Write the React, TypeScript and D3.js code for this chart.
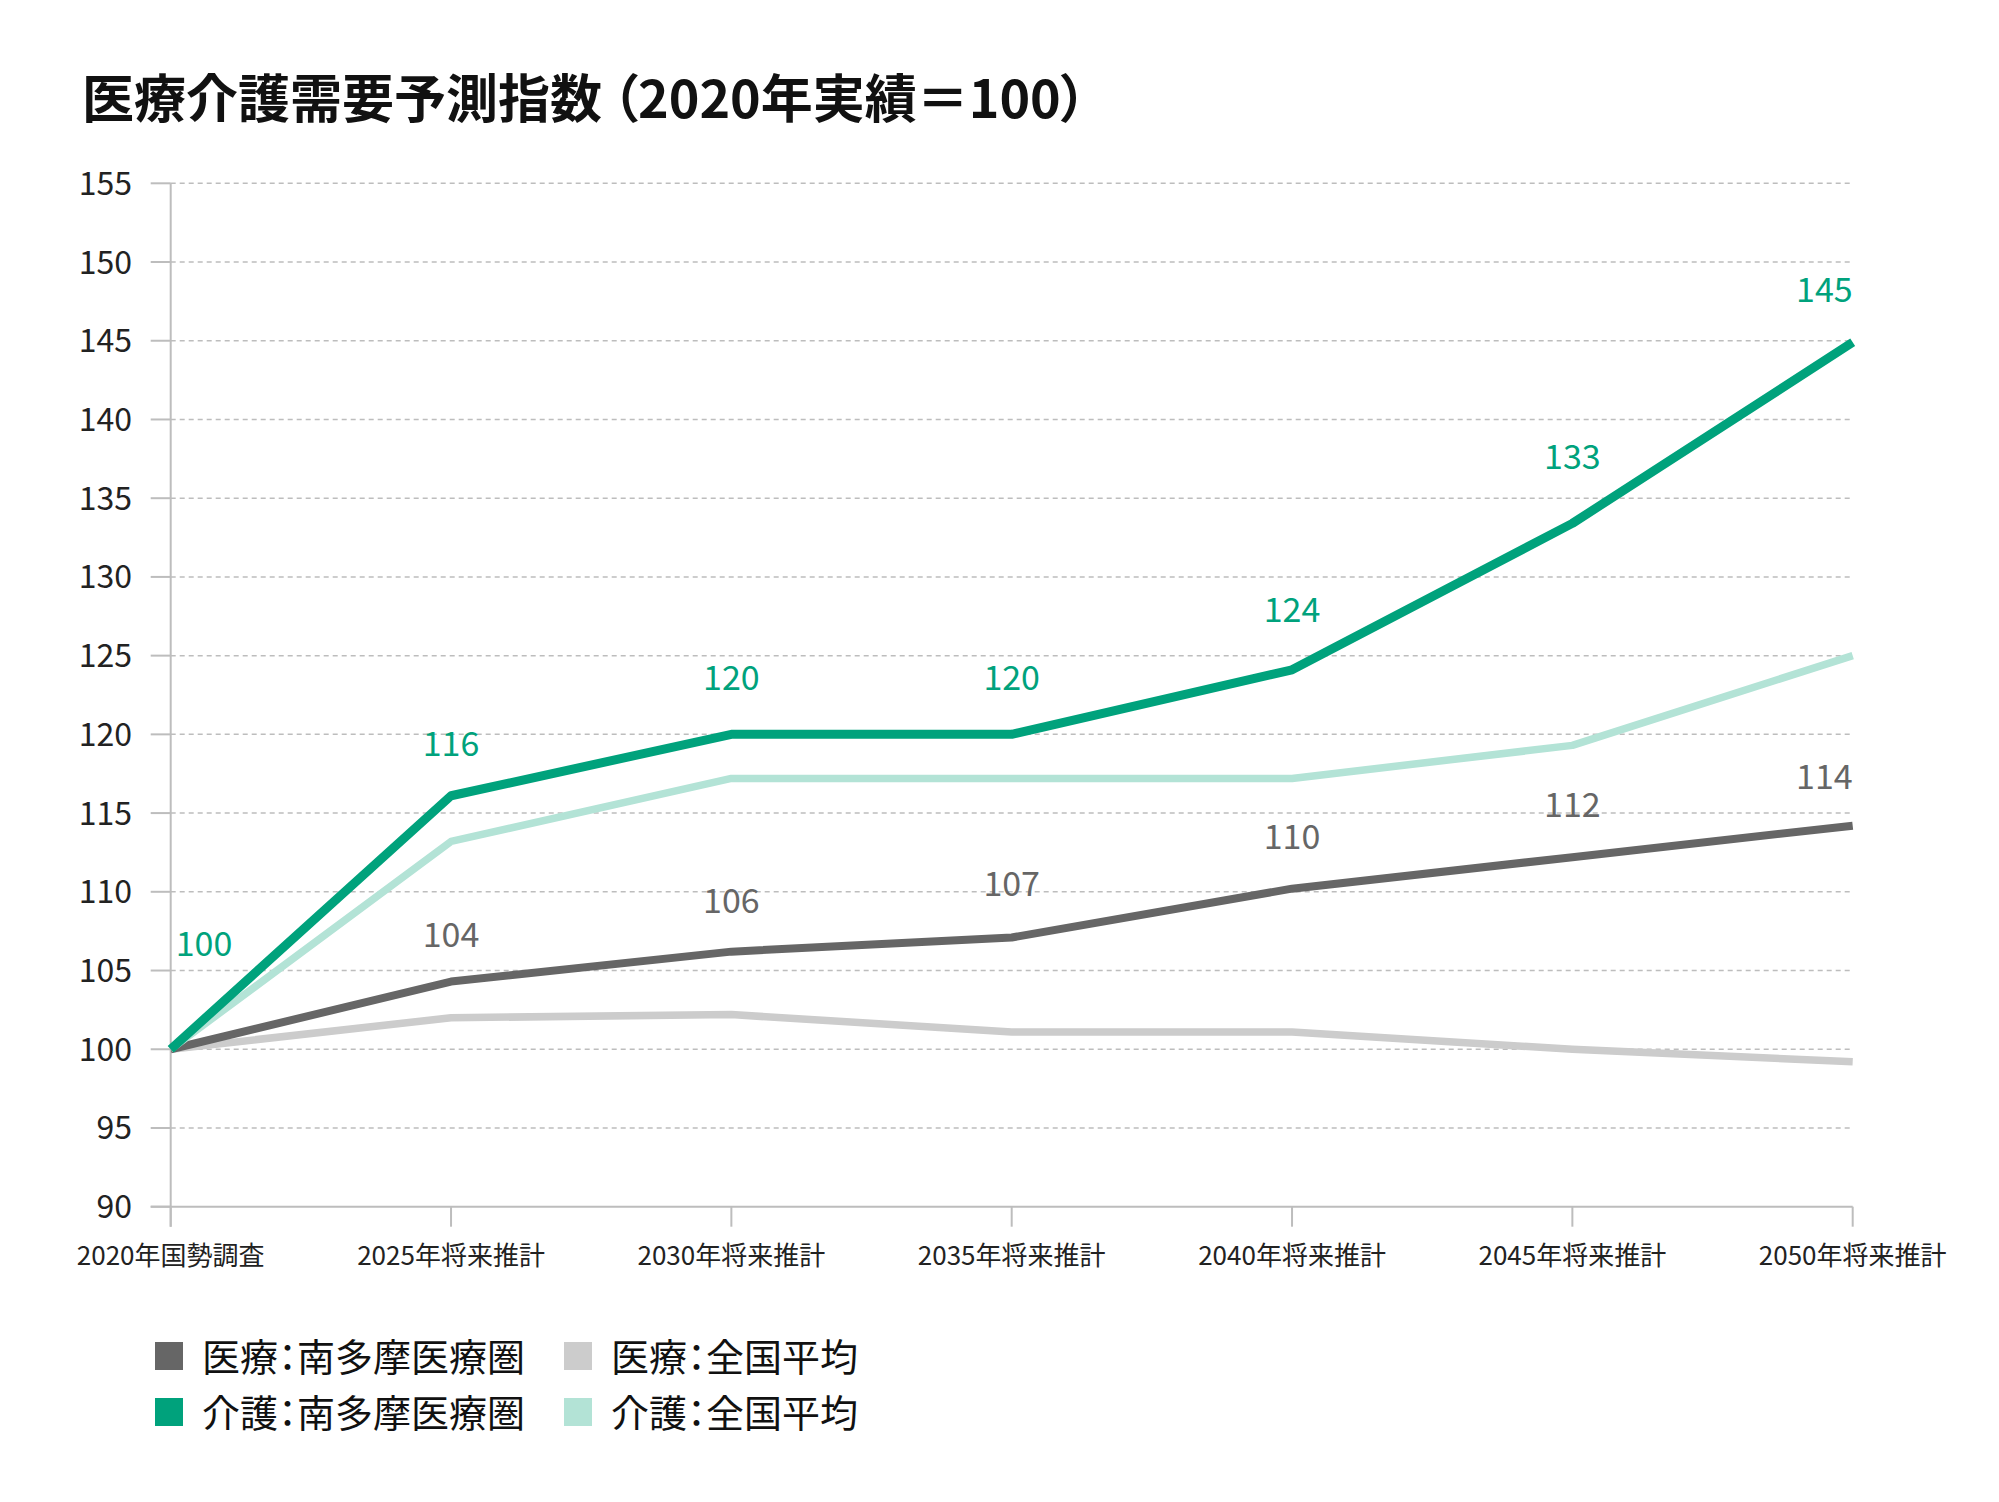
import React from "react";
import * as d3 from "d3";

const categories = [
  "2020年国勢調査",
  "2025年将来推計",
  "2030年将来推計",
  "2035年将来推計",
  "2040年将来推計",
  "2045年将来推計",
  "2050年将来推計",
];
const iryoMinami = [100, 104.3, 106.2, 107.1, 110.2, 112.2, 114.2];
const iryoZenkoku = [100, 102.0, 102.2, 101.1, 101.1, 100.0, 99.2];
const kaigoMinami = [100, 116.1, 120.0, 120.0, 124.1, 133.4, 144.9];
const kaigoZenkoku = [100, 113.2, 117.2, 117.2, 117.2, 119.3, 125.0];
const kaigoMinamiLabels = ["100", "116", "120", "120", "124", "133", "145"];
const iryoMinamiLabels = ["", "104", "106", "107", "110", "112", "114"];
const yTicks = [90, 95, 100, 105, 110, 115, 120, 125, 130, 135, 140, 145, 150, 155];
const legendItems = [
  "医療：南多摩医療圏",
  "医療：全国平均",
  "介護：南多摩医療圏",
  "介護：全国平均",
];
const titleMain = "医療介護需要予測指数";
const titleSub = "（2020年実績＝100）";

const FONT = "'Noto Sans CJK JP', 'Noto Sans', sans-serif";
const C_GREEN = "#00a27c";
const C_LGREEN = "#b3e3d6";
const C_DGRAY = "#666666";
const C_LGRAY = "#cccccc";

export default function App() {
  const W = 1999;
  const H = 1502;
  const x0 = 170.7;
  const x1 = 1852.7;
  const x = d3.scalePoint<string>().domain(categories).range([x0, x1]);
  const y = d3.scaleLinear().domain([90, 155]).range([1206.7, 183.3]);

  const line = (vals: number[]) =>
    d3
      .line<number>()
      .x((_, i) => x(categories[i]) as number)
      .y((v) => y(v))(vals) as string;

  const series = [
    { vals: iryoZenkoku, color: C_LGRAY, w: 7.5 },
    { vals: iryoMinami, color: C_DGRAY, w: 8 },
    { vals: kaigoZenkoku, color: C_LGREEN, w: 7.5 },
    { vals: kaigoMinami, color: C_GREEN, w: 9 },
  ];

  const kaigoOffsets = [93, 40, 44, 44, 48, 54, 40];
  const iryoOffsets = [0, 35, 39, 41, 40, 40, 37];

  const labelX = (i: number) => {
    const px = x(categories[i]) as number;
    if (i === 0) return { px: px + 5, anchor: "start" };
    if (i === categories.length - 1) return { px: px, anchor: "end" };
    return { px, anchor: "middle" };
  };

  const legendPos = [
    { lx: 155, ly: 1342 },
    { lx: 564, ly: 1342 },
    { lx: 155, ly: 1398 },
    { lx: 564, ly: 1398 },
  ];
  const legendColors = [C_DGRAY, C_LGRAY, C_GREEN, C_LGREEN];

  return (
    <svg
      width={W}
      height={H}
      viewBox={`0 0 ${W} ${H}`}
      style={{ position: "absolute", left: 0, top: 0, display: "block", background: "#fff" }}
      fontFamily={FONT}
    >
      <rect x={0} y={0} width={W} height={H} fill="#fff" />
      <text
        x={82}
        y={118}
        fontSize={52}
        fontWeight={700}
        fill="#111"
        style={{ fontFeatureSettings: "'palt'" }}
      >
        <tspan>{titleMain}</tspan>
        <tspan dx={10}>{titleSub}</tspan>
      </text>

      {/* grid lines */}
      {yTicks.map((t) => (
        <g key={t}>
          {t !== 90 && (
            <line
              x1={x0}
              x2={x1}
              y1={y(t)}
              y2={y(t)}
              stroke="#bdbdbd"
              strokeWidth={1.5}
              strokeDasharray="5,4"
            />
          )}
          <line x1={x0 - 20} x2={x0} y1={y(t)} y2={y(t)} stroke="#bdbdbd" strokeWidth={2} />
          <text
            x={132}
            y={y(t)}
            dy="0.36em"
            textAnchor="end"
            fontSize={32}
            fill="#222"
          >
            {t}
          </text>
        </g>
      ))}

      {/* axes */}
      <line x1={x0} x2={x0} y1={y(155)} y2={y(90) + 20} stroke="#bdbdbd" strokeWidth={2} />
      <line x1={x0 - 20} x2={x1} y1={y(90)} y2={y(90)} stroke="#bdbdbd" strokeWidth={2} />
      {categories.map((c) => (
        <g key={c}>
          <line
            x1={x(c) as number}
            x2={x(c) as number}
            y1={y(90)}
            y2={y(90) + 20}
            stroke="#bdbdbd"
            strokeWidth={2}
          />
          <text x={x(c) as number} y={1265} textAnchor="middle" fontSize={26} fill="#222">
            {c}
          </text>
        </g>
      ))}

      {/* lines */}
      {series.map((s, i) => (
        <path
          key={i}
          d={line(s.vals)}
          fill="none"
          stroke={s.color}
          strokeWidth={s.w}
          strokeLinejoin="round"
        />
      ))}

      {/* labels */}
      {iryoMinami.map((v, i) => {
        if (!iryoMinamiLabels[i]) return null;
        const { px, anchor } = labelX(i);
        return (
          <text
            key={"i" + i}
            x={px}
            y={y(v) - iryoOffsets[i]}
            textAnchor={anchor as any}
            fontSize={34}
            fill={C_DGRAY}
          >
            {iryoMinamiLabels[i]}
          </text>
        );
      })}
      {kaigoMinami.map((v, i) => {
        const { px, anchor } = labelX(i);
        return (
          <text
            key={"k" + i}
            x={px}
            y={y(v) - kaigoOffsets[i]}
            textAnchor={anchor as any}
            fontSize={34}
            fill={C_GREEN}
          >
            {kaigoMinamiLabels[i]}
          </text>
        );
      })}

      {/* legend */}
      {legendItems.map((t, i) => (
        <g key={t}>
          <rect
            x={legendPos[i].lx}
            y={legendPos[i].ly}
            width={28}
            height={28}
            fill={legendColors[i]}
          />
          <text
            x={legendPos[i].lx + 47}
            y={legendPos[i].ly + 29}
            fontSize={38}
            fill="#111"
            style={{ fontFeatureSettings: "'palt'" }}
          >
            {t}
          </text>
        </g>
      ))}
    </svg>
  );
}
